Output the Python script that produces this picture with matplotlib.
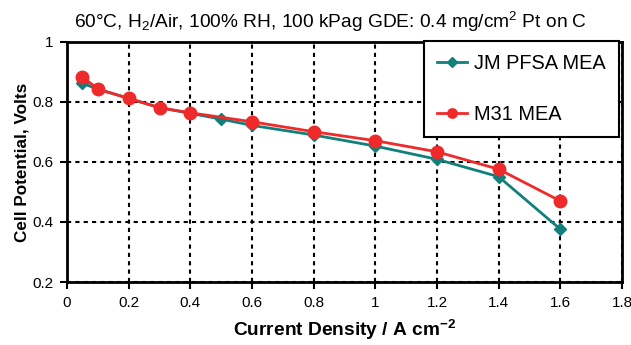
import matplotlib
matplotlib.use("Agg")
import matplotlib.pyplot as plt

plt.rcParams['font.family'] = ['Liberation Sans', 'DejaVu Sans']
plt.rcParams['mathtext.fontset'] = 'custom'
plt.rcParams['mathtext.rm'] = 'Liberation Sans'
plt.rcParams['mathtext.it'] = 'Liberation Sans:italic'
plt.rcParams['mathtext.bf'] = 'Liberation Sans:bold'

jm_x = [0.05, 0.1, 0.2, 0.3, 0.4, 0.5, 0.6, 0.8, 1.0, 1.2, 1.4, 1.6]
jm_y = [0.862, 0.843, 0.812, 0.781, 0.762, 0.743, 0.722, 0.690, 0.653, 0.609, 0.551, 0.376]
m31_x = [0.05, 0.1, 0.2, 0.3, 0.4, 0.6, 0.8, 1.0, 1.2, 1.4, 1.6]
m31_y = [0.884, 0.843, 0.812, 0.781, 0.764, 0.734, 0.701, 0.671, 0.634, 0.576, 0.470]

x_ticks = [0, 0.2, 0.4, 0.6, 0.8, 1.0, 1.2, 1.4, 1.6, 1.8]
x_labels = ['0', '0.2', '0.4', '0.6', '0.8', '1', '1.2', '1.4', '1.6', '1.8']
y_ticks = [0.2, 0.4, 0.6, 0.8, 1.0]
y_labels = ['0.2', '0.4', '0.6', '0.8', '1']

teal = '#11807a'
red = '#ee2a2a'

fig = plt.figure(figsize=(6.31, 3.45), dpi=100)
ax = fig.add_axes([0.1062, 0.1826, 0.8795, 0.6957])

ax.plot(jm_x, jm_y, color=teal, lw=2, marker='D', ms=6.5, label='JM PFSA MEA', zorder=3)
ax.plot(m31_x, m31_y, color=red, lw=2, marker='o', ms=9, label='M31 MEA', zorder=4)

ax.set_xlim(0, 1.8)
ax.set_ylim(0.2, 1.0)
ax.set_xticks(x_ticks)
ax.set_xticklabels(x_labels)
ax.set_yticks(y_ticks)
ax.set_yticklabels(y_labels)
ax.tick_params(direction='out', length=5, width=1.5, labelsize=11, colors='black', pad=5)

ax.grid(True, color='black', linestyle=(0, (2, 2)), linewidth=1.5)
ax.set_axisbelow(True)
for s in ax.spines.values():
    s.set_linewidth(2)
    s.set_color('black')

fig.text(0.523, 1 - 22 / 345, r"60°C, H$_2$/Air, 100% RH, 100 kPag GDE: 0.4 mg/cm$^2$ Pt on C",
         fontsize=13.8, ha='center', va='center')
ax.set_xlabel(r"Current Density / A cm$^{\mathbf{-2}}$", fontsize=13.8, fontweight='bold', labelpad=6)
ax.set_ylabel("Cell Potential, Volts", fontsize=12.3, fontweight='bold', labelpad=2)

leg = ax.legend(loc='upper right', bbox_to_anchor=(0.9946, 1.004), borderaxespad=0,
                fontsize=14.4, frameon=True, fancybox=False, edgecolor='black', framealpha=1,
                handlelength=1.5, labelspacing=1.6, borderpad=0.65, handletextpad=0.35,
                markerscale=0.75)
leg.get_frame().set_linewidth(1.5)

fig.savefig('out.png', dpi=100)
